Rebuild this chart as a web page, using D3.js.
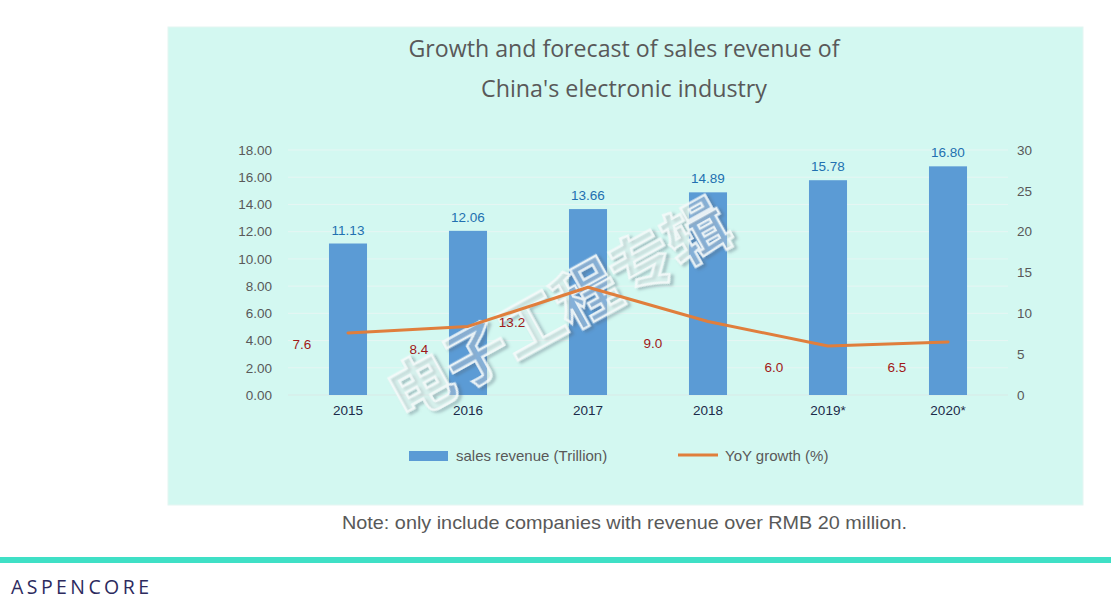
<!DOCTYPE html>
<html><head><meta charset="utf-8">
<script src="https://cdn.jsdelivr.net/npm/d3@7/dist/d3.min.js"></script>
<style>
html,body{margin:0;padding:0;background:#fff;}
svg{display:block;}
</style></head>
<body>
<svg id="chart" width="1111" height="602"></svg>
<script>
const years = ["2015","2016","2017","2018","2019*","2020*"];
const revenue = [11.13, 12.06, 13.66, 14.89, 15.78, 16.80];
const growth = [7.6, 8.4, 13.2, 9.0, 6.0, 6.5];
const leftTicks = [0,2,4,6,8,10,12,14,16,18];
const rightTicks = [0,5,10,15,20,25,30];
// label offsets (as placed in the original, relative to the line points)
const growthLabelDx = [-46,-49,-76,-55,-54,-51];
const growthLabelDy = [11,22.6,34.8,21.5,21,25.1];

const svg = d3.select("#chart");
const FONT = "'Liberation Sans', Arial, sans-serif";

// panel
svg.append("rect").attr("x",168).attr("y",27).attr("width",915).attr("height",478)
  .attr("fill","#d3f8f1").attr("stroke","#e4f6f2").attr("stroke-width",1);

// title
const title = svg.append("g").attr("font-family","'Open Sans','Noto Sans',sans-serif")
  .attr("fill","#595959").attr("font-size",24).attr("text-anchor","middle");
title.append("text").attr("x",624).attr("y",57).attr("textLength",431).attr("lengthAdjust","spacingAndGlyphs")
  .text("Growth and forecast of sales revenue of");
title.append("text").attr("x",624).attr("y",97).attr("textLength",286).attr("lengthAdjust","spacingAndGlyphs")
  .text("China's electronic industry");

const x = d3.scaleBand().domain(years).range([288,1008]).paddingInner(0.683).paddingOuter(0.3415);
const yL = d3.scaleLinear().domain([0,18]).range([395,150]);
const yR = d3.scaleLinear().domain([0,30]).range([395,150]);

// gridlines
svg.append("g").selectAll("line").data(leftTicks).join("line")
  .attr("x1",288).attr("x2",1008).attr("y1",d=>yL(d)).attr("y2",d=>yL(d))
  .attr("stroke", d=> d===0 ? "#d9e9e6" : "#e6f6f3").attr("stroke-width",1);

// left axis
const axL = svg.append("g").attr("transform","translate(288,0)")
  .call(d3.axisLeft(yL).tickValues(leftTicks).tickFormat(d3.format(".2f")).tickSize(0).tickPadding(16));
axL.select(".domain").remove();
axL.selectAll("text").attr("font-family",FONT).attr("font-size",13.5).attr("fill","#595959");

// right axis
const axR = svg.append("g").attr("transform","translate(1008,0)")
  .call(d3.axisRight(yR).tickValues(rightTicks).tickFormat(d3.format("d")).tickSize(0).tickPadding(9));
axR.select(".domain").remove();
axR.selectAll("text").attr("font-family",FONT).attr("font-size",13.5).attr("fill","#595959");

// x axis
const axX = svg.append("g").attr("transform","translate(0,395)")
  .call(d3.axisBottom(x).tickSize(0).tickPadding(10));
axX.select(".domain").remove();
axX.selectAll("text").attr("font-family",FONT).attr("font-size",13.5).attr("fill","#1c2b4a");

// bars
svg.append("g").selectAll("rect").data(revenue).join("rect")
  .attr("x",(d,i)=>x(years[i])).attr("width",x.bandwidth())
  .attr("y",d=>yL(d)).attr("height",d=>yL(0)-yL(d)).attr("fill","#5b9bd5");

svg.append("g").selectAll("text").data(revenue).join("text")
  .attr("x",(d,i)=>x(years[i])+x.bandwidth()/2).attr("y",d=>yL(d)-9)
  .attr("text-anchor","middle").attr("font-family",FONT).attr("font-size",13.5)
  .attr("fill","#2270b0").text(d=>d3.format(".2f")(d));

// watermark
const defs = svg.append("defs");
const f = defs.append("filter").attr("id","sh").attr("x","-20%").attr("y","-20%").attr("width","140%").attr("height","140%");
f.append("feDropShadow").attr("dx",2).attr("dy",3).attr("stdDeviation",1.8).attr("flood-color","#506070").attr("flood-opacity",0.5);
svg.append("text").attr("transform","translate(556,305) rotate(-29)")
  .attr("text-anchor","middle").attr("dominant-baseline","central")
  .attr("font-family","'Noto Sans CJK SC',sans-serif").attr("font-weight",700).attr("font-size",64)
  .attr("letter-spacing",-1)
  .attr("fill","rgba(255,255,255,0.22)").attr("stroke","rgba(245,250,250,0.9)").attr("stroke-width",2.4)
  .attr("filter","url(#sh)").text("电子工程专辑");

// line
const line = d3.line().x((d,i)=>x(years[i])+x.bandwidth()/2).y(d=>yR(d));
svg.append("path").datum(growth).attr("d",line).attr("fill","none")
  .attr("stroke","#e07e3c").attr("stroke-width",3).attr("stroke-linejoin","round").attr("stroke-linecap","round");

svg.append("g").selectAll("text").data(growth).join("text")
  .attr("x",(d,i)=>x(years[i])+x.bandwidth()/2+growthLabelDx[i])
  .attr("y",(d,i)=>yR(d)+growthLabelDy[i]+5)
  .attr("text-anchor","middle").attr("font-family",FONT).attr("font-size",13.5)
  .attr("fill","#a01818").text(d=>d3.format(".1f")(d));

// legend
svg.append("rect").attr("x",409).attr("y",451).attr("width",39).attr("height",10).attr("fill","#5b9bd5");
svg.append("text").attr("x",456).attr("y",461).attr("font-family",FONT).attr("font-size",15)
  .attr("fill","#595959").text("sales revenue (Trillion)");
svg.append("line").attr("x1",678).attr("x2",718).attr("y1",455).attr("y2",455)
  .attr("stroke","#e07e3c").attr("stroke-width",3);
svg.append("text").attr("x",725).attr("y",461).attr("font-family",FONT).attr("font-size",15)
  .attr("fill","#595959").text("YoY growth (%)");

// note
svg.append("text").attr("x",624.5).attr("y",529).attr("text-anchor","middle")
  .attr("font-family","'Liberation Sans Narrow','Arial Narrow',"+FONT).attr("font-size",19)
  .attr("fill","#595959").attr("textLength",565).attr("lengthAdjust","spacingAndGlyphs")
  .text("Note: only include companies with revenue over RMB 20 million.");

// teal band
svg.append("rect").attr("x",0).attr("y",557).attr("width",1111).attr("height",6).attr("fill","#3fe0c6");

// logo
svg.append("text").attr("x",11).attr("y",594).attr("font-family","'Open Sans','Noto Sans',sans-serif")
  .attr("font-size",19.5).attr("font-weight",500).attr("fill","#2d2a5e").attr("textLength",138).attr("lengthAdjust","spacing")
  .text("ASPENCORE");
</script>
</body></html>
